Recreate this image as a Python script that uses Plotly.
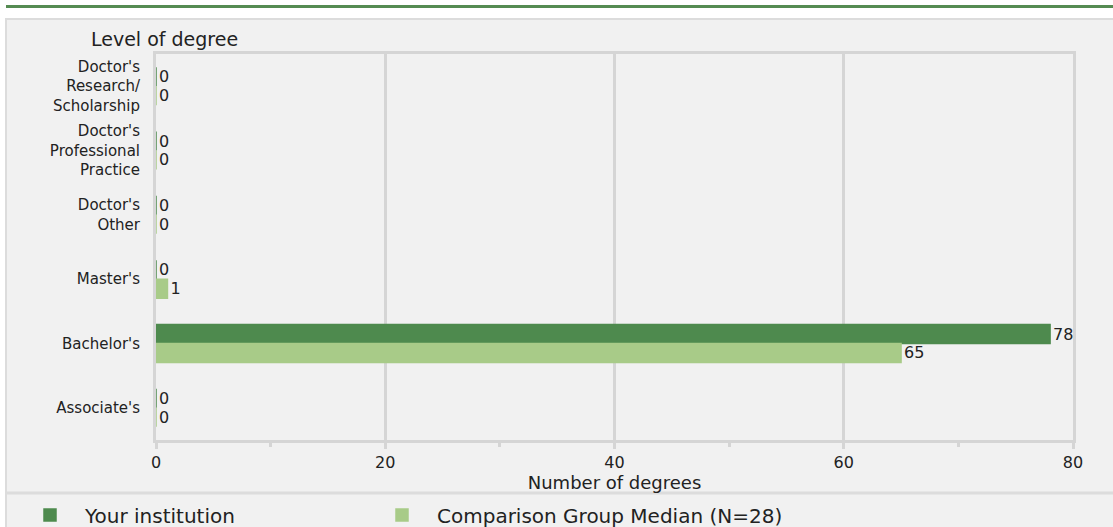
import plotly.graph_objects as go

categories = ["Doctor's<br>Research/<br>Scholarship", "Doctor's<br>Professional<br>Practice",
              "Doctor's<br>Other", "Master's", "Bachelor's", "Associate's"]
your_institution = [0, 0, 0, 0, 78, 0]
comparison_median = [0, 0, 0, 1, 65, 0]
series_names = ["Your institution", "Comparison Group Median (N=28)"]
x_ticks = [0, 20, 40, 60, 80]

DARK = "#4e8a4e"
LIGHT = "#a8cb88"
GRID = "#d5d5d5"
PANEL = "#f1f1f1"
FONT = "DejaVu Sans, Verdana, sans-serif"
TXT = "#222222"

W, H = 1113, 527
L, R, T, B = 156, 40, 54, 87
pw, ph = W - L - R, H - T - B

def px_x(p):
    return (p - L) / pw

def px_y(p):
    return (H - B - p) / ph

fig = go.Figure()
for name, vals, col, leg in [(series_names[0], your_institution, DARK, "legend"),
                             (series_names[1], comparison_median, LIGHT, "legend2")]:
    fig.add_trace(go.Bar(
        y=categories, x=vals, name=name, orientation="h",
        marker=dict(color=col, line=dict(color=col, width=1.5)),
        text=vals, texttemplate="%{x}", textposition="outside",
        constraintext="none",
        textfont=dict(size=16, color=TXT, family=FONT),
        cliponaxis=False, legend=leg,
    ))

shapes = [
    dict(type="rect", xref="paper", yref="paper", x0=px_x(6), x1=px_x(1120),
         y0=px_y(19), y1=px_y(535), fillcolor=PANEL,
         line=dict(color="#dcdcdc", width=2), layer="below"),
    dict(type="line", xref="paper", yref="paper", x0=px_x(7), x1=px_x(1113),
         y0=px_y(493), y1=px_y(493), line=dict(color="#dcdcdc", width=3)),
    dict(type="line", xref="paper", yref="paper", x0=px_x(6), x1=px_x(1113),
         y0=px_y(6.5), y1=px_y(6.5), line=dict(color="#558b52", width=3)),
]

legend_common = dict(orientation="h", xanchor="left", yanchor="middle",
                     bgcolor="rgba(0,0,0,0)", font=dict(size=20, color=TXT),
                     itemwidth=60)

fig.update_layout(
    width=W, height=H,
    margin=dict(l=L, r=R, t=T, b=B, autoexpand=False),
    paper_bgcolor="white", plot_bgcolor=PANEL,
    barmode="group", bargap=0.41, bargroupgap=0,
    font=dict(family=FONT, size=16, color=TXT),
    shapes=shapes,
    showlegend=True,
    legend=dict(x=px_x(15), y=px_y(515), **legend_common),
    legend2=dict(x=px_x(367), y=px_y(515), **legend_common),
    annotations=[dict(text="Level of degree", xref="paper", yref="paper",
                      x=px_x(164), y=px_y(39), xanchor="center", yanchor="middle",
                      showarrow=False, font=dict(size=19, color=TXT))],
)

fig.update_xaxes(
    range=[0, 80], tickvals=x_ticks, ticktext=[str(v) for v in x_ticks],
    showgrid=True, gridcolor=GRID, gridwidth=3,
    showline=True, linecolor=GRID, linewidth=3, mirror=True,
    ticks="outside", ticklen=6, tickwidth=3, tickcolor=GRID,
    minor=dict(dtick=10, tick0=0, ticks="outside", ticklen=4, tickwidth=3, tickcolor=GRID, showgrid=False),
    zeroline=False,
    tickfont=dict(size=16, color=TXT),
    title=dict(text="Number of degrees", font=dict(size=18, color=TXT), standoff=0),
)
fig.update_yaxes(
    autorange="reversed", categoryorder="array", categoryarray=categories,
    showline=True, linecolor=GRID, linewidth=3, mirror=True,
    showgrid=False, ticks="", ticklabelstandoff=10,
    tickfont=dict(size=15, color=TXT),
)

fig.write_html("out.html", config={"displayModeBar": False},
               post_script="document.body.style.margin='0';")
